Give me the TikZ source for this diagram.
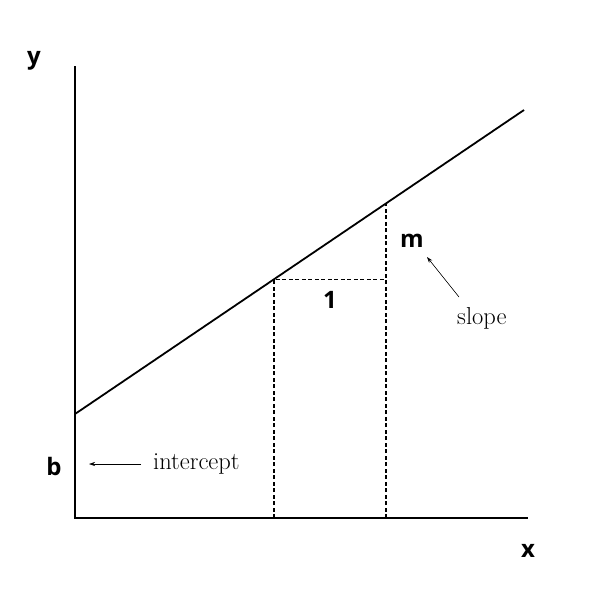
\documentclass[tikz,border=0pt]{standalone}
\usepackage{fontspec}
\newfontfamily\lblfont{Open Sans}
\usetikzlibrary{arrows.meta}
\begin{document}
\begin{tikzpicture}[x=1pt,y=-1pt,
  axis/.style={line width=2.2pt},
  fitline/.style={line width=1.8pt},
  guide/.style={line width=1.4pt, dash pattern=on 4pt off 2.5pt},
  pointer/.style={line width=0.6pt, -{Stealth[length=6pt,width=4pt]}},
  biglabel/.style={font=\lblfont\bfseries\fontsize{24}{28}\selectfont, inner sep=0pt},
  note/.style={font=\fontsize{24.5}{28}\selectfont, inner sep=0pt}]
\useasboundingbox (0,0) rectangle (616,616);
% axes
\coordinate (O) at (75,518);
\coordinate (ytop) at (75,66);
\coordinate (xend) at (528,518);
\draw[axis] (ytop) -- (O) -- (xend);
% fitted line
\coordinate (b0) at (75,414);
\coordinate (lend) at (524,110);
\draw[fitline] (b0) -- (lend);
% guides
\coordinate (p1) at (274,279.3);
\coordinate (p2) at (386,203.5);
\coordinate (p1b) at (274,518);
\coordinate (p2b) at (386,518);
\coordinate (p12) at (386,279.3);
\draw[guide] (p1b) -- (p1) -- (p12);
\draw[guide] (p2b) -- (p2);
% labels
\node[biglabel] (ylab) at (34,61) {y};
\node[biglabel] (xlab) at (528,551) {x};
\node[biglabel] (blab) at (54,466) {b};
\node[biglabel] (mlab) at (412,241) {m};
\node[biglabel] (onelab) at (330,300) {1};
\node[note, anchor=west] (icpt) at (153,464) {intercept};
\node[note, anchor=west] (slp) at (457,318) {slope};
% pointers
\coordinate (ia) at (141,464);
\coordinate (ib) at (89,464);
\coordinate (sa) at (459,297);
\coordinate (sb) at (427,257);
\draw[pointer] (ia) -- (ib);
\draw[pointer] (sa) -- (sb);
\end{tikzpicture}
\end{document}
